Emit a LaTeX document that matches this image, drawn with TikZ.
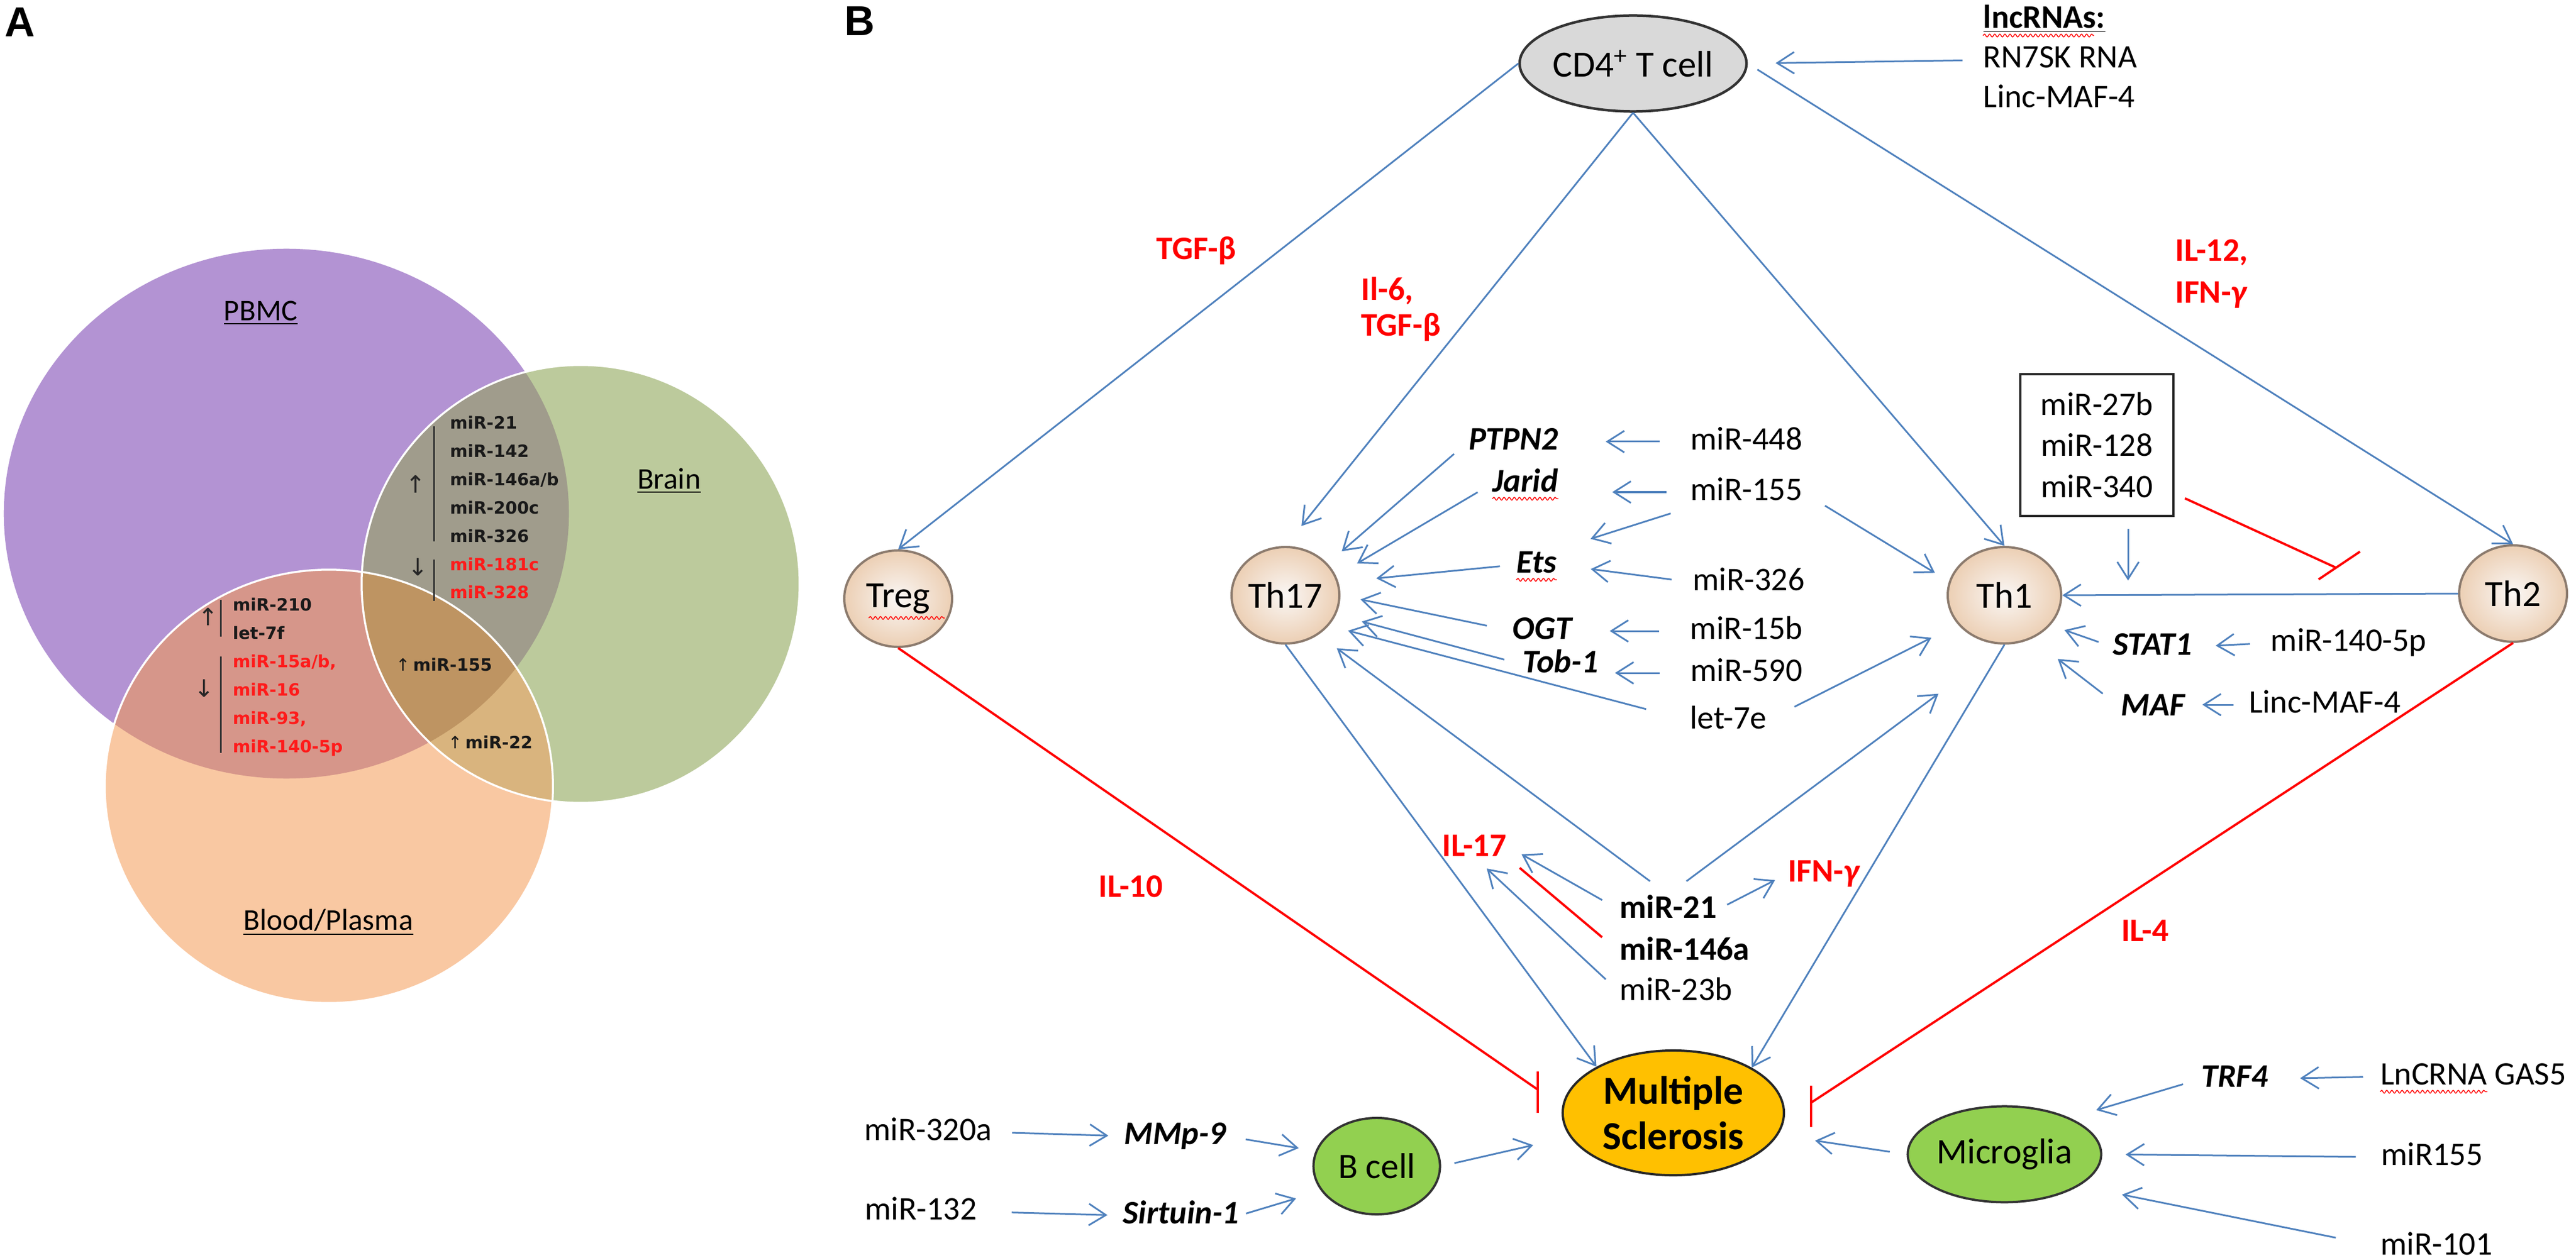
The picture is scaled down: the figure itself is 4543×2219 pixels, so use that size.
\documentclass[tikz,border=0pt]{standalone}
\usepackage{fontspec}
\setmainfont{Carlito}
\newfontfamily\vennfont{DejaVu Sans}
\newfontfamily\panelfont{Liberation Sans}
\usetikzlibrary{arrows.meta,shapes.geometric,decorations.pathmorphing}
\definecolor{blu}{HTML}{4F81BD}
\definecolor{rd}{HTML}{FF0000}
\definecolor{vred}{HTML}{FF1A1A}
\definecolor{vp}{HTML}{B393D3}
\definecolor{vg}{HTML}{BCCA9C}
\definecolor{vo}{HTML}{F9C8A2}
\definecolor{vpg}{HTML}{A09C8C}
\definecolor{vpo}{HTML}{D6968A}
\definecolor{vgo}{HTML}{D9B47E}
\definecolor{vpgo}{HTML}{BE9462}
\definecolor{cellin}{HTML}{FAF7F5}
\definecolor{cellout}{HTML}{ECCFB4}
\definecolor{cellrim}{HTML}{8C7B6E}
\definecolor{msfill}{HTML}{FFC000}
\definecolor{grnc}{HTML}{92D050}
\begin{document}
\begin{tikzpicture}[x=0.01cm,y=-0.01cm,
  lbl/.style={inner sep=0pt,text height=0.4cm,text depth=0.12cm,font=\fontsize{16.5}{19}\selectfont},
  bld/.style={lbl,font=\fontsize{16.5}{19}\selectfont\bfseries},
  gene/.style={lbl,font=\fontsize{16.5}{19}\selectfont\bfseries\itshape},
  cyto/.style={inner sep=0pt,text=rd,align=left,font=\fontsize{16.5}{18}\selectfont\bfseries},
  thc/.style={ellipse,draw=cellrim,line width=0.04cm,inner color=cellin,outer color=cellout,minimum width=1.9cm,minimum height=1.7cm,inner sep=0pt,font=\fontsize{18.5}{20}\selectfont},
  grn/.style={ellipse,draw=black!80,line width=0.04cm,fill=grnc,inner sep=0pt,font=\fontsize{18}{20}\selectfont},
  arr/.style={draw=blu,line width=0.03cm,-{Straight Barb[length=0.3cm,width=0.38cm]}},
  inh/.style={draw=rd,line width=0.04cm},
  squig/.style={draw=rd,line width=0.015cm,decorate,decoration={snake,amplitude=0.025cm,segment length=0.09cm}},
  venn/.style={inner sep=0pt,align=left,text=black!90,font=\vennfont\bfseries\fontsize{8.5}{14.2}\selectfont},
  vup/.style={inner sep=0pt,text=black!85,font=\vennfont\fontsize{12}{12}\selectfont},
  vbar/.style={draw=black!80,line width=0.03cm},
  vlab/.style={inner sep=0pt,font=\fontsize{15.1}{17}\selectfont},
  panel/.style={inner sep=0pt,font=\panelfont\bfseries\fontsize{21}{21}\selectfont}]
\useasboundingbox (0,0) rectangle (4543,2219);

\node[panel] (pa) at (35,39) {A};
\node[panel] (pb) at (1516,37) {B};

\fill[vp] (505,906) ellipse [x radius=4.98cm,y radius=4.67cm];
\fill[vg] (1024,1030) circle [radius=3.86cm];
\fill[vo] (580,1387) ellipse [x radius=3.95cm,y radius=3.82cm];
\begin{scope}
  \clip (505,906) ellipse [x radius=4.98cm,y radius=4.67cm];
  \fill[vpg] (1024,1030) circle [radius=3.86cm];
  \fill[vpo] (580,1387) ellipse [x radius=3.95cm,y radius=3.82cm];
\end{scope}
\begin{scope}
  \clip (1024,1030) circle [radius=3.86cm];
  \fill[vgo] (580,1387) ellipse [x radius=3.95cm,y radius=3.82cm];
  \clip (505,906) ellipse [x radius=4.98cm,y radius=4.67cm];
  \fill[vpgo] (580,1387) ellipse [x radius=3.95cm,y radius=3.82cm];
\end{scope}
\draw[white,line width=0.035cm] (1024,1030) circle [radius=3.86cm];
\draw[white,line width=0.035cm] (580,1387) ellipse [x radius=3.95cm,y radius=3.82cm];

\node[vlab] (pbmc) at (460,552) {\underline{PBMC}};
\node[vlab] (brain) at (1180,848) {\underline{Brain}};
\node[vlab] (blood) at (579,1627) {\underline{Blood/Plasma}};
\node[venn,anchor=west] (pg) at (793,895) {miR-21\\miR-142\\miR-146a/b\\miR-200c\\miR-326\\\textcolor{vred}{miR-181c}\\\textcolor{vred}{miR-328}};
\node[venn,anchor=west] (po) at (410,1194) {miR-210\\let-7f\\\textcolor{vred}{miR-15a/b,}\\\textcolor{vred}{miR-16}\\\textcolor{vred}{miR-93,}\\\textcolor{vred}{miR-140-5p}};
\node[venn,anchor=west] (pgo) at (698,1172) {{\mdseries↑}\,miR-155};
\node[venn,anchor=west] (go) at (790,1309) {{\mdseries↑}\,miR-22};
\node[vup] (u1) at (733,854) {↑};
\node[vup] (d1) at (737,1000) {↓};
\node[vup] (u2) at (367,1088) {↑};
\node[vup] (d2) at (360,1214) {↓};
\draw[vbar] (765,752) -- (765,955);
\draw[vbar] (765,987) -- (765,1060);
\draw[vbar] (389,1058) -- (389,1123);
\draw[vbar] (389,1158) -- (389,1328);

\node[ellipse,draw=black!80,line width=0.045cm,fill=gray!30,minimum width=3.49cm,minimum height=1.69cm,inner sep=0pt,font=\fontsize{18.5}{20}\selectfont] (cd4) at (2880,112) {CD4\textsuperscript{+} T cell};
\node[thc] (treg) at (1584,1056) {Treg};
\node[thc] (th17) at (2267,1050) {Th17};
\node[thc,minimum width=2cm] (th1) at (3535,1050) {Th1};
\node[thc] (th2) at (4432,1047) {Th2};
\node[ellipse,draw=black!85,line width=0.04cm,fill=msfill,minimum width=3.9cm,minimum height=2.2cm,inner sep=0pt,align=center,font=\fontsize{19.9}{22.8}\selectfont\bfseries] (ms) at (2951,1963) {Multiple\\Sclerosis};
\node[grn,minimum width=2.23cm,minimum height=1.7cm] (bc) at (2428,2057) {B cell};
\node[grn,minimum width=3.41cm,minimum height=1.69cm] (mg) at (3535,2036) {Microglia};

\node[bld,anchor=west] (lnc) at (3497,36) {\underline{lncRNAs:}};
\node[lbl,anchor=west] (rn) at (3497,106) {RN7SK RNA};
\node[lbl,anchor=west] (lm) at (3497,176) {Linc-MAF-4};
\node[cyto] (tgf) at (2110,442) {TGF-β};
\node[cyto,anchor=west] (il6) at (2400,545) {Il-6,\\TGF-β};
\node[cyto,anchor=west,font=\fontsize{16.5}{21}\selectfont\bfseries] (il12) at (3836,483) {IL-12,\\IFN-{\itshape γ}};
\node[gene] (ptp) at (2669,779) {PTPN2};
\node[lbl] (m448) at (3080,779) {miR-448};
\node[gene] (jar) at (2690,853) {Jarid};
\node[lbl] (m155) at (3080,868) {miR-155};
\node[gene] (ets) at (2710,996) {Ets};
\node[lbl] (m326) at (3084,1027) {miR-326};
\node[gene] (ogt) at (2720,1113) {OGT};
\node[lbl] (m15) at (3080,1113) {miR-15b};
\node[gene] (tob) at (2752,1172) {Tob-1};
\node[lbl] (m590) at (3080,1187) {miR-590};
\node[lbl] (let) at (3048,1271) {let-7e};
\node[draw=black!85,line width=0.04cm,minimum width=2.7cm,minimum height=2.49cm,align=center,inner sep=0pt,font=\fontsize{16.5}{20.5}\selectfont] (box) at (3698,785) {miR-27b\\miR-128\\miR-340};
\node[gene] (st1) at (3796,1141) {STAT1};
\node[lbl] (m140) at (4142,1134) {miR-140-5p};
\node[gene] (maf) at (3797,1248) {MAF};
\node[lbl] (lm2) at (4100,1243) {Linc-MAF-4};
\node[cyto] (il17) at (2600,1492) {IL-17};
\node[cyto] (ifn) at (3216,1541) {IFN-{\itshape γ}};
\node[bld,anchor=west] (m21) at (2856,1605) {miR-21};
\node[bld,anchor=west] (m146) at (2856,1679) {miR-146a};
\node[lbl,anchor=west] (m23) at (2856,1750) {miR-23b};
\node[cyto] (il10) at (1994,1564) {IL-10};
\node[cyto] (il4) at (3783,1642) {IL-4};
\node[lbl] (m320) at (1637,1997) {miR-320a};
\node[gene] (mmp) at (2072,2004) {MMp-9};
\node[lbl] (m132) at (1624,2137) {miR-132};
\node[gene] (sir) at (2083,2144) {Sirtuin-1};
\node[gene] (trf) at (3941,1903) {TRF4};
\node[lbl] (gas) at (4362,1899) {LnCRNA GAS5};
\node[lbl] (m155b) at (4289,2041) {miR155};
\node[lbl] (m101) at (4297,2199) {miR-101};

\draw[squig] (lnc.south west) -- ++(196,0);
\draw[squig] (treg.center) ++(-52,34) -- ++(134,0);
\draw[squig] (jar.south west) -- (jar.south east);
\draw[squig] (ets.south west) -- (ets.south east);
\draw[squig] (gas.south west) -- ++(189,0);

\draw[arr,shorten <=0.36cm,shorten >=0.49cm] (rn.west) -- (cd4.east);
\draw[arr] (cd4.west) -- (treg.north);
\draw[arr,shorten >=0.45cm] (cd4.south) -- (th17.north);
\draw[arr] (cd4.south) -- (th1.north);
\draw[arr,shorten <=0.2cm] (cd4.east) -- (th2.north);

\draw[arr,shorten <=0.54cm,shorten >=0.83cm] (m448.west) -- (ptp.east);
\draw[arr,shorten <=0.42cm,shorten >=0.95cm] (m155.west) -- (m155.west -| jar.east);
\draw[arr,shorten <=0.36cm,shorten >=0.62cm] (m155.south west) -- (ets.north east);
\draw[arr,shorten <=0.37cm,shorten >=0.6cm] (m326.west) -- (ets.east);
\draw[arr,shorten <=0.54cm,shorten >=0.66cm] (m15.west) -- (ogt.east);
\draw[arr,shorten <=0.54cm,shorten >=0.29cm] (m590.west) -- (m590.west -| tob.east);

\draw[arr,shorten <=0.33cm,shorten >=0.33cm] (ptp.west) -- (th17.37);
\draw[arr,shorten <=0.3cm,shorten >=0.43cm] (jar.west) -- (th17.21);
\draw[arr,shorten <=0.29cm,shorten >=0.67cm] (ets.west) -- (th17.14);
\draw[arr,shorten <=0.46cm,shorten >=0.36cm] (ogt.west) -- (th17.0);
\draw[arr,shorten <=0.33cm,shorten >=0.47cm] (tob.west) -- (th17.-21);
\draw[arr,shorten <=0.79cm,shorten >=0.35cm] (let.west) -- (th17.-35);
\draw[arr,shorten <=0.4cm,shorten >=0.4cm] (m21.north) -- (th17.-50);

\draw[arr,shorten <=0.46cm,shorten >=0.29cm] (m155.east) -- (th1.166);
\draw[arr,shorten <=0.54cm,shorten >=0.52cm] (let.east) -- (th1.212);
\draw[arr,shorten <=0.4cm,shorten >=1.45cm] (m21.north) -- (th1.south);
\draw[arr,shorten <=0.36cm,shorten >=0.41cm] (m140.west) -- (st1.east);
\draw[arr,shorten <=0.26cm,shorten >=0.26cm] (st1.west) -- (th1.-33);
\draw[arr,shorten <=0.27cm,shorten >=0.3cm] (lm2.west) -- (lm2.west -| maf.east);
\draw[arr,shorten <=0.4cm,shorten >=0.58cm] (maf.west) -- (th1.-58);
\draw[arr] (th2.west) -- (th1.east);

\coordinate (bxt) at (3753,1024);
\draw[arr,shorten <=0.21cm] (box.south -| bxt) -- (bxt);
\coordinate (bxi) at (4119,1001);
\draw[inh,shorten <=0.2cm] (box.-32) -- (bxi);
\draw[inh] (bxi) ++(-30,21) -- ++(73,-49);

\coordinate (tb) at (2712,1922);
\draw[inh] (treg.south) -- (tb);
\draw[inh] (tb) ++(0,-32) -- ++(0,73);
\coordinate (t2b) at (3194,1945);
\draw[inh] (th2.south) -- (t2b);
\draw[inh] (t2b) ++(0,-30) -- ++(0,73);

\draw[arr] (th17.south) -- (ms.149);
\draw[arr] (th1.south) -- (ms.30);
\draw[arr,shorten <=0.35cm,shorten >=0.3cm] (m21.west) -- (il17.east);
\draw[inh,shorten <=0.4cm,shorten >=0.3cm] (m146.west) -- (il17.south east);
\draw[arr,shorten <=0.33cm,shorten >=0.3cm] (m23.west) -- (il17.south);
\draw[arr,shorten <=0.2cm,shorten >=0.25cm] (m21.east) -- (ifn.west);

\draw[arr,shorten <=0.35cm,shorten >=0.27cm] (m320.east) -- (mmp.west);
\draw[arr,shorten <=0.35cm,shorten >=0.3cm] (mmp.east) -- (bc.166);
\draw[arr,shorten <=0.61cm,shorten >=0.27cm] (m132.east) -- (sir.west);
\draw[arr,shorten <=0.12cm,shorten >=0.46cm] (sir.east) -- (bc.204);
\draw[arr,shorten <=0.24cm,shorten >=0.66cm] (bc.east) -- (ms.193);
\draw[arr,shorten <=0.3cm,shorten >=0.66cm] (mg.west) -- (ms.-12);
\draw[arr,shorten <=0.3cm,shorten >=0.56cm] (gas.west) -- (trf.east);
\draw[arr,shorten <=0.33cm,shorten >=0.48cm] (trf.west) -- (mg.29);
\draw[arr,shorten <=0.44cm,shorten >=0.41cm] (m155b.west) -- (mg.east);
\draw[arr,shorten <=0.8cm,shorten >=0.77cm] (m101.west) -- (mg.-23);
\end{tikzpicture}
\end{document}
